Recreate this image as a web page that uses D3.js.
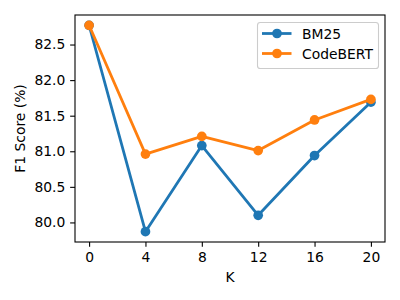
<!DOCTYPE html>
<html><head><meta charset="utf-8">
<script src="https://cdn.jsdelivr.net/npm/d3@7"></script>
<style>body{margin:0;background:#fff}svg{display:block}text{font-family:"DejaVu Sans",sans-serif;fill:#000}</style>
</head><body>
<script>
const kValues = [0, 4, 8, 12, 16, 20];
const bm25 = [82.77, 79.87, 81.08, 80.10, 80.94, 81.69];
const codebert = [82.77, 80.96, 81.21, 81.01, 81.44, 81.73];
const seriesNames = ["BM25", "CodeBERT"];
const colors = ["#1f77b4", "#ff7f0e"];
const xTicks = [0, 4, 8, 12, 16, 20];
const yTicks = [80.0, 80.5, 81.0, 81.5, 82.0, 82.5];

const W = 400, H = 300;
const m = {l: 75, r: 15, t: 15, b: 58};
const fs = 13.89;
const svg = d3.select("body").append("svg").attr("width", W).attr("height", H);

const all = bm25.concat(codebert);
const ymin = d3.min(all), ymax = d3.max(all), yr = ymax - ymin;
const x = d3.scaleLinear().domain([-1, 21]).range([m.l, W - m.r]);
const y = d3.scaleLinear().domain([ymin - 0.05 * yr, ymax + 0.05 * yr]).range([H - m.b, m.t]);

const xAxis = svg.append("g").attr("transform", `translate(0,${H - m.b})`)
  .call(d3.axisBottom(x).tickValues(xTicks).tickSize(4.86).tickPadding(4.86).tickFormat(d3.format("d")));
const yAxis = svg.append("g").attr("transform", `translate(${m.l},0)`)
  .call(d3.axisLeft(y).tickValues(yTicks).tickSize(4.86).tickPadding(4.86).tickFormat(d3.format(".1f")));
[xAxis, yAxis].forEach(a => {
  a.select(".domain").remove();
  a.selectAll("line").attr("stroke", "#000").attr("stroke-width", 1.1);
  a.selectAll("text").style("font-family", '"DejaVu Sans",sans-serif').style("font-size", fs + "px").attr("fill", "#000");
});

const series = [bm25, codebert];
const line = d3.line().x((d, i) => x(kValues[i])).y(d => y(d));
series.forEach((s, si) => {
  svg.append("path").datum(s).attr("d", line).attr("fill", "none")
    .attr("stroke", colors[si]).attr("stroke-width", 2.78).attr("stroke-linejoin", "round").attr("stroke-linecap", "square");
  svg.selectAll(null).data(s).enter().append("circle")
    .attr("cx", (d, i) => x(kValues[i])).attr("cy", d => y(d)).attr("r", 4.85).attr("fill", colors[si]);
});

// frame
svg.append("rect").attr("x", m.l).attr("y", m.t).attr("width", W - m.l - m.r).attr("height", H - m.t - m.b)
  .attr("fill", "none").attr("stroke", "#000").attr("stroke-width", 1.1);

// labels
svg.append("text").attr("x", (m.l + W - m.r) / 2).attr("y", 282).attr("text-anchor", "middle")
  .style("font-size", fs + "px").text("K");
svg.append("text").attr("transform", `translate(25,${(m.t + H - m.b) / 2}) rotate(-90)`).attr("text-anchor", "middle")
  .style("font-size", fs + "px").text("F1 Score (%)");

// legend
const lg = svg.append("g");
lg.append("rect").attr("x", 257.5).attr("y", 22.5).attr("width", 121).attr("height", 46).attr("rx", 2.8)
  .attr("fill", "#fff").attr("fill-opacity", 0.8).attr("stroke", "#cccccc").attr("stroke-width", 1.1);
seriesNames.forEach((n, i) => {
  const yy = 33.5 + i * 20;
  lg.append("line").attr("x1", 262).attr("x2", 291.5).attr("y1", yy).attr("y2", yy)
    .attr("stroke", colors[i]).attr("stroke-width", 2.78);
  lg.append("circle").attr("cx", 277).attr("cy", yy).attr("r", 4.85).attr("fill", colors[i]);
  lg.append("text").attr("x", 302).attr("y", yy + 5).style("font-size", fs + "px").text(n);
});
</script>
</body></html>
